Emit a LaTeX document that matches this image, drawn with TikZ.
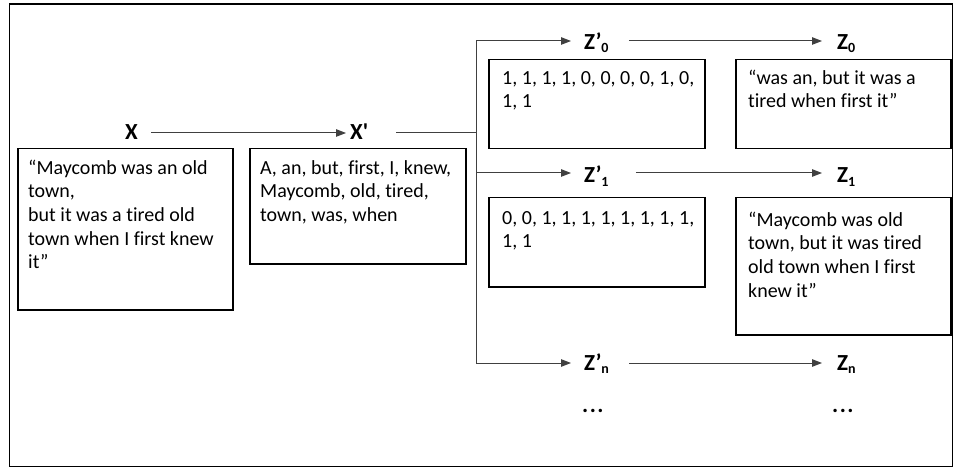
\documentclass[tikz,border=0pt]{standalone}
\usepackage{fontspec}
\setmainfont{Carlito}[Ligatures=NoCommon]
\newfontfamily\plainfont{Carlito}
\usetikzlibrary{arrows.meta}
\newcommand\subz[1]{\raisebox{-3pt}{\fontsize{14}{14}\selectfont #1}}
\begin{document}
\begin{tikzpicture}[x=1pt,y=-1pt,
 box/.style={draw=black,line width=1.5pt,inner sep=0,anchor=north west},
 txt/.style={inner sep=0,anchor=north west,align=left,font=\fontsize{20}{23.7}\selectfont},
 lbl/.style={inner sep=0,anchor=base west,font=\fontsize{23}{26}\selectfont\bfseries},
 conn/.style={draw=black!75,line width=1pt},
 arr/.style={conn,-{Triangle[length=10pt,width=7.5pt]}}]
\useasboundingbox (0,0) rectangle (954,468);
\node[box,minimum width=943pt,minimum height=462pt] (frame) at (8.5,3.5) {};
% boxes
\node[box,minimum width=215pt,minimum height=161pt] (xb) at (17,148) {};
\node[box,minimum width=216pt,minimum height=115pt] (xpb) at (249,148) {};
\node[box,minimum width=216pt,minimum height=89pt] (zp0b) at (488,59) {};
\node[box,minimum width=215pt,minimum height=89pt] (z0b) at (735,59) {};
\node[box,minimum width=216pt,minimum height=89pt] (zp1b) at (488,197) {};
\node[box,minimum width=215pt,minimum height=137pt] (z1b) at (735,197) {};
% texts
\node[txt] (xt) at (28,158) {\rule{0pt}{16pt}“Maycomb was an old\\town,\\but it was a tired old\\town when I first knew\\it”};
\node[txt] (xpt) at (260,158) {\rule{0pt}{16pt}A, an, but, first, I, knew,\\Maycomb, old, tired,\\town, was, when};
\node[txt] (zp0t) at (502,68) {\rule{0pt}{16pt}1, 1, 1, 1, 0, 0, 0, 0, 1, 0,\\1, 1};
\node[txt] (z0t) at (748,68) {\rule{0pt}{16pt}“was an, but it was a\\tired when first it”};
\node[txt] (zp1t) at (502,208) {\rule{0pt}{16pt}0, 0, 1, 1, 1, 1, 1, 1, 1, 1,\\1, 1};
\node[txt] (z1t) at (748,210) {\rule{0pt}{16pt}“Maycomb was old\\town, but it was tired\\old town when I first\\knew it”};
% labels
\node[lbl] (x) at (125,140) {X};
\node[lbl] (xp) at (350,140) {\plainfont X'};
\node[lbl] (zp0) at (584,50) {Z’\subz{0}};
\node[lbl] (z0) at (837,50) {Z\subz{0}};
\node[lbl] (zp1) at (584,183) {Z’\subz{1}};
\node[lbl] (z1) at (837,183) {Z\subz{1}};
\node[lbl] (zpn) at (584,370) {Z’\subz{n}};
\node[lbl] (zn) at (837,370) {Z\subz{n}};
\node[lbl] (d1) at (582,412) {.\hspace{1.5pt}.\hspace{1.5pt}.};
\node[lbl] (d2) at (832,412) {.\hspace{1.5pt}.\hspace{1.5pt}.};
% connectors
\coordinate (br) at (476,133);
\coordinate (b0) at (476,41);
\coordinate (b1) at (476,173);
\coordinate (bn) at (476,363);
\draw[arr,shorten <=13pt,shorten >=4pt] (x.east |- br) -- (xp.west |- br);
\draw[conn,shorten <=28pt] (xp.east |- br) -- (br);
\draw[conn] (b0) -- (bn);
\draw[arr,shorten >=13pt] (b0) -- (b0 -| zp0.west);
\draw[arr,shorten >=13pt] (b1) -- (b1 -| zp1.west);
\draw[arr,shorten >=13pt] (bn) -- (bn -| zpn.west);
\draw[arr,shorten <=20pt,shorten >=15pt] (zp0.east |- b0) -- (z0.west |- b0);
\draw[arr,shorten <=27pt,shorten >=15pt] (zp1.east |- b1) -- (z1.west |- b1);
\draw[arr,shorten <=20pt,shorten >=15pt] (zpn.east |- bn) -- (zn.west |- bn);
\end{tikzpicture}
\end{document}
